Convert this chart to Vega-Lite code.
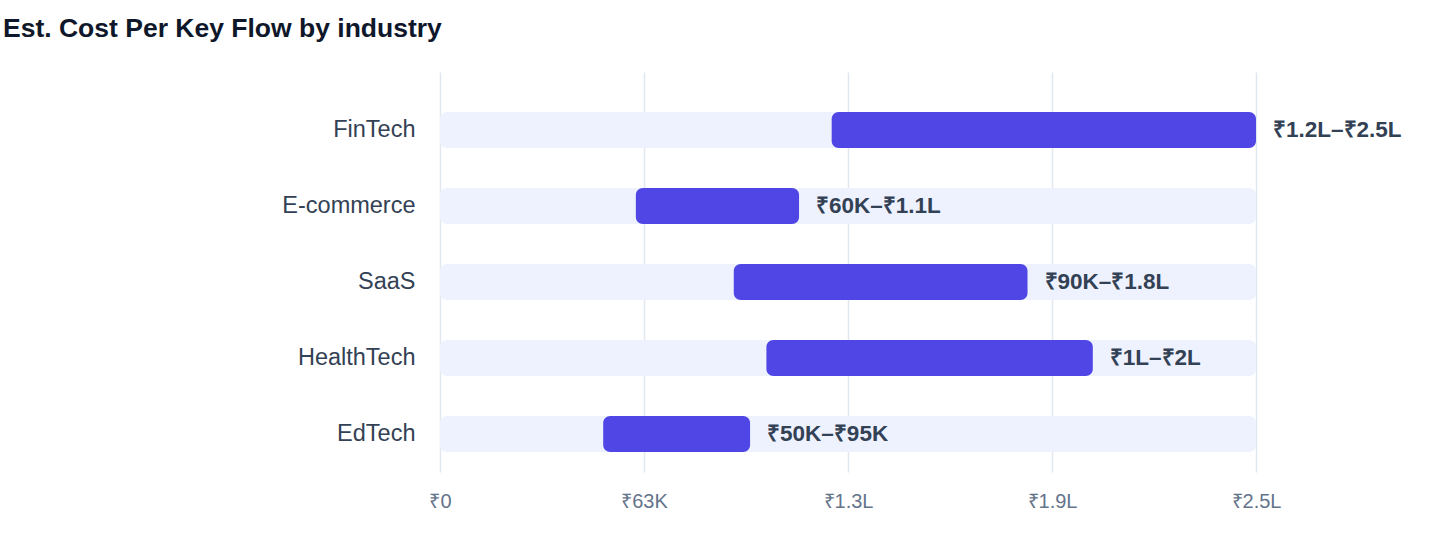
{
  "$schema": "https://vega.github.io/schema/vega-lite/v6.json",
  "width": 816,
  "height": 400,
  "autosize": {"type": "none"},
  "padding": {"left": 440, "top": 72, "right": 184, "bottom": 88},
  "background": "white",
  "title": {
    "text": "Est. Cost Per Key Flow by industry",
    "anchor": "start",
    "frame": "group",
    "dx": -437,
    "offset": 30,
    "fontSize": 26.5,
    "fontWeight": "bold",
    "color": "#0f172a",
    "font": "Liberation Sans"
  },
  "config": {"view": {"stroke": null}, "font": "Liberation Sans"},
  "data": {
    "values": [
      {"industry": "FinTech", "low": 120000, "high": 250000, "label": "₹1.2L–₹2.5L"},
      {"industry": "E-commerce", "low": 60000, "high": 110000, "label": "₹60K–₹1.1L"},
      {"industry": "SaaS", "low": 90000, "high": 180000, "label": "₹90K–₹1.8L"},
      {"industry": "HealthTech", "low": 100000, "high": 200000, "label": "₹1L–₹2L"},
      {"industry": "EdTech", "low": 50000, "high": 95000, "label": "₹50K–₹95K"}
    ]
  },
  "encoding": {
    "y": {
      "field": "industry",
      "type": "nominal",
      "sort": null,
      "scale": {"paddingInner": 0.5263, "paddingOuter": 0.3947, "align": 0.6667},
      "axis": {
        "title": null,
        "domain": false,
        "ticks": false,
        "grid": false,
        "labelPadding": 25,
        "labelFontSize": 23.5,
        "labelColor": "#334155",
        "labelFont": "Liberation Sans"
      }
    }
  },
  "layer": [
    {
      "mark": {"type": "bar", "color": "#eef2ff", "cornerRadius": 7},
      "encoding": {
        "x": {
          "datum": 0,
          "type": "quantitative",
          "scale": {"domain": [0, 250000], "nice": false},
          "axis": {
            "title": null,
            "values": [0, 62500, 125000, 187500, 250000],
            "labelExpr": "datum.value == 0 ? '₹0' : datum.value == 62500 ? '₹63K' : datum.value == 125000 ? '₹1.3L' : datum.value == 187500 ? '₹1.9L' : '₹2.5L'",
            "grid": true,
            "gridColor": "#e2e8f0",
            "gridWidth": 1.5,
            "domain": false,
            "ticks": false,
            "labelFlush": false,
            "labelOverlap": false,
            "labelBound": false,
            "labelPadding": 19,
            "labelFontSize": 20,
            "labelColor": "#64748b",
            "labelFont": "Liberation Sans"
          }
        },
        "x2": {"datum": 250000}
      }
    },
    {
      "mark": {"type": "bar", "color": "#4f46e5", "cornerRadius": 7},
      "encoding": {
        "x": {"field": "low", "type": "quantitative"},
        "x2": {"field": "high"}
      }
    },
    {
      "mark": {
        "type": "text",
        "align": "left",
        "baseline": "middle",
        "dx": 17,
        "fontSize": 22.5,
        "fontWeight": "bold",
        "color": "#334155",
        "font": "Liberation Sans"
      },
      "encoding": {
        "x": {"field": "high", "type": "quantitative"},
        "text": {"field": "label"}
      }
    }
  ]
}
